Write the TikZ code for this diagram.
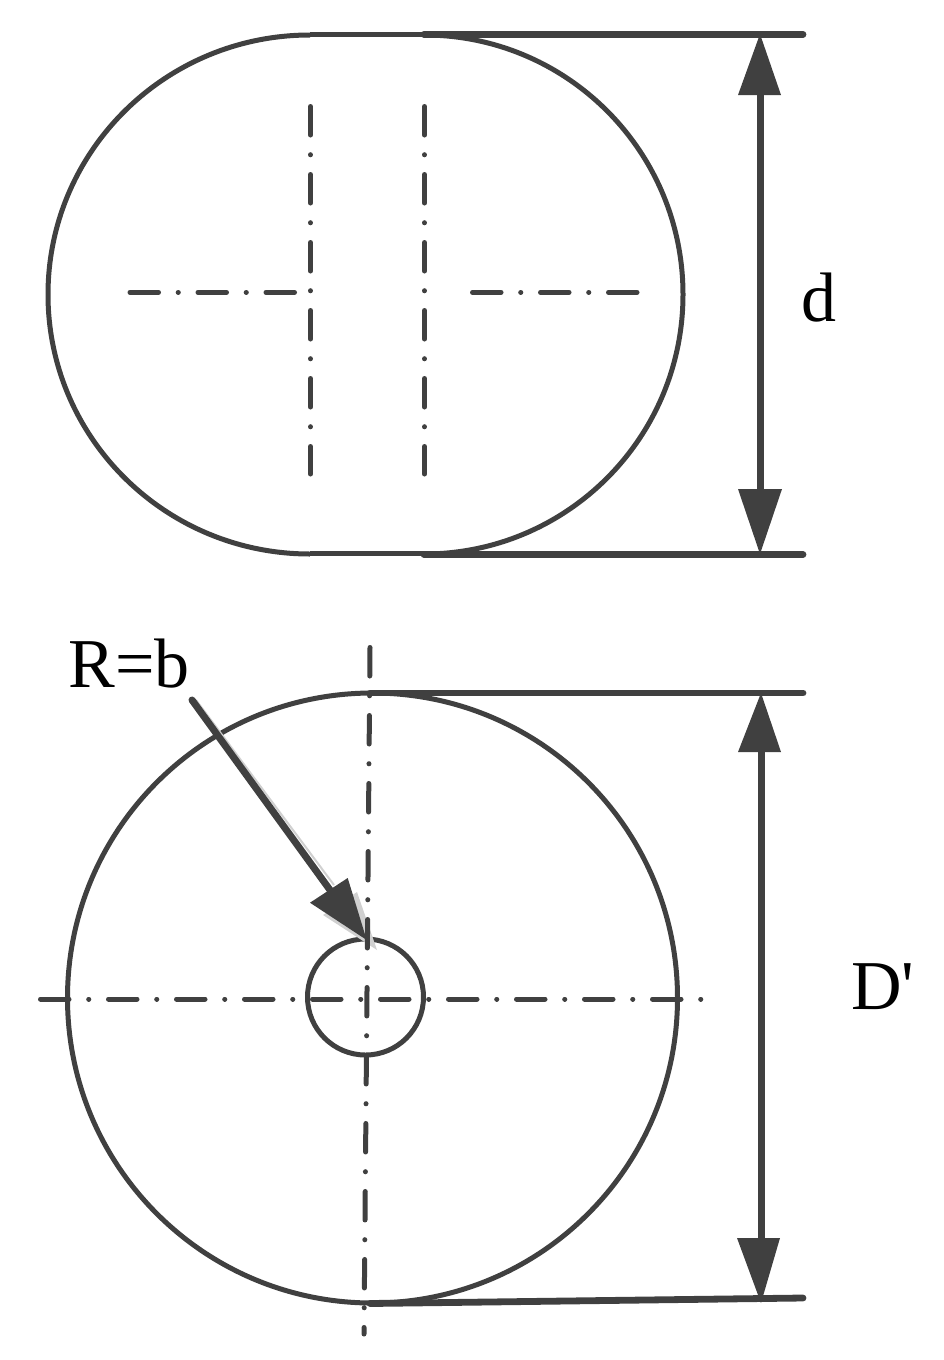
\documentclass[tikz,border=0pt]{standalone}
\usepackage{fontspec}
\newfontfamily\lblfont{Liberation Serif}
\definecolor{ink}{HTML}{404040}
\definecolor{ghost}{HTML}{D0D0D0}
\tikzset{
  x=1pt,y=-1pt,
  outline/.style={draw=ink,line width=5pt},
  flat/.style={draw=ink,line width=5pt},
  ext/.style={draw=ink,line width=6.8pt,line cap=round},
  centre/.style={draw=ink,line width=5pt,line cap=round,dash pattern=on 28.5pt off 19.7pt on 0.1pt off 19.7pt},
  dim/.style={draw=ink,line width=7pt},
  head/.style={fill=ink,draw=none},
  lbl/.style={text=black,inner sep=0pt,font=\lblfont\fontsize{70}{72}\selectfont}
}
\begin{document}
\begin{tikzpicture}
\useasboundingbox (0,0) rectangle (944,1360);
% top shape
\draw[outline] (310,35) arc[start angle=270,end angle=90,x radius=262,y radius=259.5];
\draw[outline] (424,35) arc[start angle=-90,end angle=90,x radius=259,y radius=259.5];
\draw[flat] (310,34.5) -- (424,34.5);
\draw[flat] (310,553.5) -- (424,553.5);
\coordinate (t1) at (424,34.3);
\coordinate (t2) at (803,34.3);
\coordinate (t3) at (424,554.5);
\coordinate (t4) at (803,554.5);
\draw[ext] (t1) -- (t2);
\draw[ext] (t3) -- (t4);
\draw[centre] (310.5,106.5) -- (310.5,474);
\draw[centre] (424.5,106.5) -- (424.5,474);
\draw[centre] (130,292.3) -- (295,292.3);
\draw[centre] (472.5,292.3) -- (638,292.3);
% d dimension
\coordinate (da) at (760,34);
\coordinate (db) at (760,554);
\draw[dim] (760,90) -- (760,495);
\fill[head] (da) -- (781,95) -- (738,95) -- cycle;
\fill[head] (db) -- (738,489) -- (782,489) -- cycle;
\node[lbl,anchor=base] (d) at (819,321) {d};
% bottom shape
\draw[outline] (372.5,998) circle[radius=305];
\draw[outline] (365.5,997) circle[radius=58];
\coordinate (b1) at (370,693);
\coordinate (b2) at (803,693);
\coordinate (b3) at (370,1303.5);
\coordinate (b4) at (803,1298);
\draw[ext] (b1) -- (b2);
\draw[ext] (b3) -- (b4);
% R=b arrow ghost edge
\fill[ghost] (357,892) -- (377,950) -- (323,915) -- cycle;
\draw[draw=ghost,line width=2pt] (196,700) -- (334,885);
\draw[centre] (370,647.5) -- (364,1334);
\draw[centre] (40.5,999) -- (705,999);
% D' dimension
\coordinate (ea) at (761,693);
\coordinate (eb) at (761,1303);
\draw[dim] (761,750) -- (761,1245);
\fill[head] (ea) -- (781,752) -- (738,752) -- cycle;
\fill[head] (eb) -- (737,1238) -- (780,1238) -- cycle;
\node[lbl,anchor=base west] (D) at (851,1009) {D'};
% R=b
\node[lbl,anchor=base] (R) at (129,687) {R=b};
\coordinate (r1) at (192,700);
\coordinate (r2) at (366.7,940);
\draw[draw=ink,line width=7pt,line cap=round] (r1) -- (330,890);
\fill[head] (r2) -- (310,902.7) -- (347.7,878) -- cycle;
\end{tikzpicture}
\end{document}
